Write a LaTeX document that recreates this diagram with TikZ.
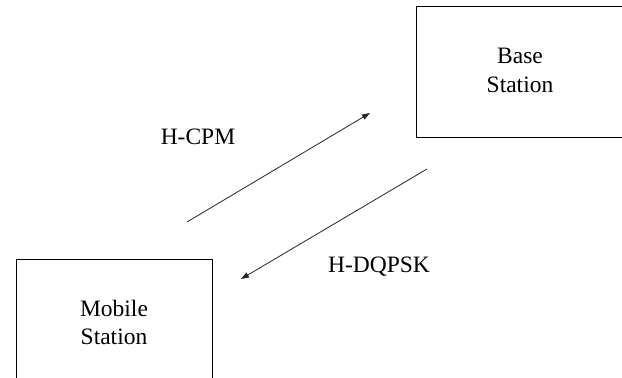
\documentclass[tikz,border=0pt]{standalone}
\usepackage{fontspec}
\setmainfont{Liberation Serif}
\usetikzlibrary{arrows.meta}
\tikzset{
  box/.style={draw=black, line width=0.9pt, rectangle, inner sep=0pt},
  lbl/.style={inner sep=0pt, anchor=base, font=\fontsize{23.5}{29}\selectfont},
  conn/.style={draw=black!85, line width=0.8pt, -{Triangle[length=8pt,width=5.5pt]}}
}
\begin{document}
\begin{tikzpicture}[x=1pt,y=-1pt]
\useasboundingbox (0,0) rectangle (622,378);
\clip (0,0) rectangle (622,378);
\fill[white] (0,0) rectangle (622,378);
% boxes
\node[box, minimum width=214pt, minimum height=131pt] (base) at (523,71.5) {};
\node[box, minimum width=196pt, minimum height=130pt] (mobile) at (114,324) {};
% box texts
\node[lbl] (baseA) at (520,63) {Base};
\node[lbl] (baseB) at (520,92) {Station};
\node[lbl] (mobA) at (114,316) {Mobile};
\node[lbl] (mobB) at (114,344) {Station};
% link labels
\node[lbl] (cpm) at (198,144) {H-CPM};
\node[lbl] (dqpsk) at (379,272) {H-DQPSK};
% arrows
\coordinate (u0) at (187,222);
\coordinate (u1) at (370,113);
\coordinate (d0) at (427,169);
\coordinate (d1) at (241,279);
\draw[conn] (u0) -- (u1);
\draw[conn] (d0) -- (d1);
\end{tikzpicture}
\end{document}
